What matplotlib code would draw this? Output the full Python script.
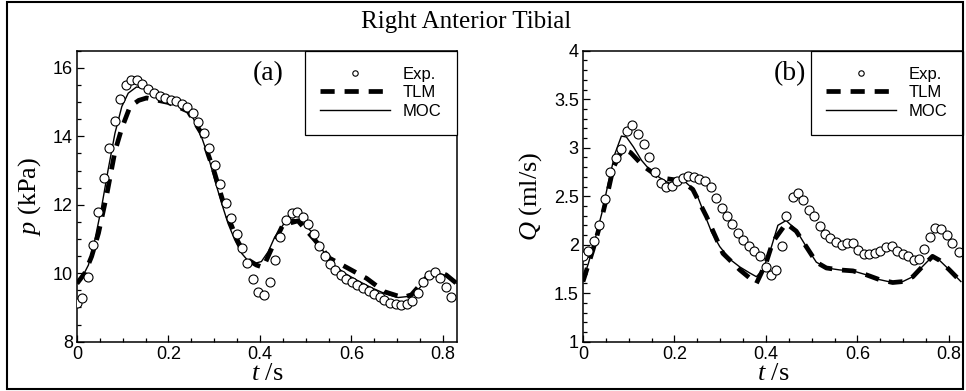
import matplotlib
matplotlib.use("Agg")
import matplotlib.pyplot as plt
from matplotlib.patches import Rectangle
from matplotlib.ticker import MultipleLocator, FormatStrFormatter

plt.rcParams['font.family'] = 'Liberation Sans'
plt.rcParams['mathtext.fontset'] = 'custom'
plt.rcParams['mathtext.it'] = 'Liberation Serif:italic'
plt.rcParams['mathtext.rm'] = 'Liberation Serif'

# ---- panel (a): pressure ----
exp_t_a = [0.000, 0.010, 0.025, 0.036, 0.047, 0.059, 0.070, 0.083, 0.095, 0.107,
           0.119, 0.131, 0.143, 0.156, 0.168, 0.181, 0.192, 0.205, 0.216, 0.229,
           0.241, 0.253, 0.265, 0.277, 0.288, 0.301, 0.313, 0.325, 0.337, 0.349,
           0.360, 0.372, 0.385, 0.396, 0.408, 0.421, 0.432, 0.443, 0.456, 0.469,
           0.481, 0.493, 0.505, 0.517, 0.529, 0.541, 0.552, 0.565, 0.576, 0.589,
           0.601, 0.613, 0.625, 0.638, 0.649, 0.662, 0.672, 0.685, 0.697, 0.709,
           0.721, 0.733, 0.745, 0.756, 0.769, 0.782, 0.794, 0.806, 0.818]
exp_p = [9.12, 9.27, 9.88, 10.83, 11.80, 12.78, 13.67, 14.45, 15.09, 15.49,
         15.65, 15.65, 15.53, 15.38, 15.26, 15.18, 15.12, 15.07, 15.02, 14.95,
         14.85, 14.68, 14.43, 14.09, 13.67, 13.17, 12.61, 12.05, 11.60, 11.15,
         10.73, 10.31, 9.83, 9.44, 9.36, 9.73, 10.39, 11.05, 11.56, 11.77,
         11.78, 11.65, 11.44, 11.15, 10.80, 10.51, 10.26, 10.10, 9.95, 9.83,
         9.74, 9.66, 9.58, 9.48, 9.39, 9.30, 9.22, 9.14, 9.09, 9.07,
         9.09, 9.19, 9.43, 9.73, 9.95, 10.05, 9.87, 9.61, 9.32]

moc_t_a = [0.000, 0.010, 0.025, 0.039, 0.054, 0.068, 0.083, 0.098, 0.112, 0.130,
           0.148, 0.170, 0.192, 0.214, 0.236, 0.254, 0.272, 0.287, 0.301, 0.316,
           0.330, 0.345, 0.360, 0.374, 0.389, 0.403, 0.418, 0.432, 0.454, 0.472,
           0.491, 0.512, 0.534, 0.556, 0.585, 0.614, 0.643, 0.672, 0.702, 0.723,
           0.745, 0.767, 0.785, 0.803, 0.829]
moc_p = [9.73, 9.85, 10.24, 10.97, 11.95, 13.02, 14.09, 14.87, 15.26, 15.44,
         15.41, 15.28, 15.15, 15.02, 14.82, 14.53, 13.99, 13.41, 12.73, 12.05,
         11.46, 10.97, 10.58, 10.36, 10.29, 10.34, 10.63, 11.05, 11.48, 11.58,
         11.51, 11.22, 10.73, 10.29, 10.00, 9.78, 9.58, 9.41, 9.29, 9.32,
         9.51, 9.85, 10.02, 9.95, 9.71]

tlm_t_a = [0.000, 0.017, 0.032, 0.047, 0.065, 0.083, 0.098, 0.116, 0.135, 0.152,
           0.199, 0.243, 0.272, 0.287, 0.301, 0.316, 0.330, 0.352, 0.374, 0.392,
           0.407, 0.429, 0.450, 0.483, 0.520, 0.552, 0.592, 0.633, 0.672, 0.712,
           0.731, 0.767, 0.789, 0.807, 0.829]
tlm_p = [9.70, 10.00, 10.49, 11.17, 12.29, 13.56, 14.24, 14.87, 15.05, 15.12,
         14.99, 14.73, 14.09, 13.46, 12.92, 12.24, 11.65, 10.92, 10.39, 10.24,
         10.17, 10.83, 11.41, 11.53, 10.97, 10.44, 10.15, 9.85, 9.46, 9.29,
         9.37, 9.92, 10.05, 9.95, 9.71]

# ---- panel (b): flow rate ----
exp_t_b = [0.001, 0.012, 0.024, 0.036, 0.048, 0.060, 0.072, 0.084, 0.097, 0.108,
           0.121, 0.133, 0.145, 0.157, 0.170, 0.181, 0.194, 0.206, 0.218, 0.230,
           0.242, 0.254, 0.266, 0.279, 0.290, 0.303, 0.314, 0.326, 0.338, 0.350,
           0.362, 0.374, 0.386, 0.399, 0.410, 0.421, 0.434, 0.444, 0.458, 0.470,
           0.481, 0.494, 0.505, 0.517, 0.530, 0.541, 0.554, 0.566, 0.578, 0.590,
           0.602, 0.614, 0.626, 0.639, 0.650, 0.663, 0.675, 0.687, 0.699, 0.711,
           0.723, 0.734, 0.746, 0.759, 0.770, 0.783, 0.795, 0.807, 0.821]
exp_q = [1.88, 1.93, 2.04, 2.20, 2.47, 2.75, 2.89, 2.99, 3.17, 3.23,
         3.14, 3.04, 2.90, 2.75, 2.64, 2.60, 2.61, 2.66, 2.69, 2.71,
         2.70, 2.68, 2.66, 2.60, 2.48, 2.38, 2.30, 2.21, 2.12, 2.05,
         1.99, 1.93, 1.88, 1.77, 1.69, 1.74, 1.99, 2.30, 2.49, 2.53,
         2.46, 2.36, 2.30, 2.19, 2.11, 2.07, 2.03, 2.00, 2.02, 2.02,
         1.95, 1.90, 1.90, 1.91, 1.94, 1.98, 1.99, 1.94, 1.90, 1.88,
         1.84, 1.85, 1.96, 2.08, 2.17, 2.16, 2.10, 2.02, 1.92]

moc_t_b = [0.000, 0.012, 0.026, 0.041, 0.055, 0.070, 0.084, 0.095, 0.110, 0.128,
           0.146, 0.168, 0.190, 0.208, 0.223, 0.237, 0.252, 0.266, 0.281, 0.299,
           0.321, 0.343, 0.364, 0.379, 0.393, 0.412, 0.426, 0.437, 0.444, 0.466,
           0.488, 0.510, 0.532, 0.561, 0.590, 0.619, 0.648, 0.677, 0.699, 0.721,
           0.743, 0.764, 0.779, 0.801, 0.826]
moc_q = [1.64, 1.81, 2.05, 2.32, 2.63, 2.94, 3.12, 3.11, 3.01, 2.87,
         2.77, 2.69, 2.63, 2.64, 2.65, 2.59, 2.48, 2.31, 2.13, 1.98,
         1.85, 1.77, 1.71, 1.67, 1.74, 1.98, 2.20, 2.23, 2.25, 2.15,
         1.98, 1.82, 1.76, 1.74, 1.73, 1.69, 1.64, 1.61, 1.62, 1.67,
         1.78, 1.88, 1.84, 1.74, 1.62]

tlm_t_b = [0.000, 0.022, 0.037, 0.052, 0.066, 0.080, 0.090, 0.104, 0.132, 0.168,
           0.215, 0.240, 0.270, 0.306, 0.343, 0.379, 0.400, 0.415, 0.444, 0.466,
           0.488, 0.510, 0.532, 0.561, 0.590, 0.619, 0.648, 0.677, 0.699, 0.721,
           0.743, 0.764, 0.779, 0.801, 0.826]
tlm_q = [1.62, 1.95, 2.20, 2.49, 2.79, 2.93, 2.98, 2.95, 2.81, 2.69,
         2.66, 2.57, 2.29, 1.91, 1.74, 1.60, 1.81, 2.03, 2.22, 2.14,
         1.98, 1.82, 1.76, 1.74, 1.73, 1.69, 1.64, 1.61, 1.62, 1.67,
         1.78, 1.88, 1.84, 1.74, 1.62]

fig = plt.figure(figsize=(9.66, 3.91), dpi=100)
ax_a = fig.add_axes([0.0797, 0.1261, 0.3931, 0.7442])
ax_b = fig.add_axes([0.6035, 0.1261, 0.3931, 0.7442])

panels = [
    (ax_a, exp_t_a, exp_p, tlm_t_a, tlm_p, moc_t_a, moc_p, (8, 16.5), 2, 0.5,
     r'$p$ (kPa)', '(a)', 0.503),
    (ax_b, exp_t_b, exp_q, tlm_t_b, tlm_q, moc_t_b, moc_q, (1, 4), 0.5, 0.1,
     r'$Q$ (ml/s)', '(b)', 0.545),
]

for ax, et, ev, tt, tv, mt, mv, ylim, ymaj, ymin, ylab, tag, tagx in panels:
    ax.plot(et, ev, 'o', ms=6.5, mfc='white', mec='black', mew=0.8, label='Exp.',
            zorder=3)
    ax.plot(tt, tv, color='black', lw=3.4, ls=(0, (3.0, 2.1)), label='TLM', zorder=2)
    ax.plot(mt, mv, color='black', lw=1.0, label='MOC', zorder=2)
    ax.set_xlim(0, 0.83)
    ax.set_ylim(*ylim)
    ax.xaxis.set_major_locator(MultipleLocator(0.2))
    ax.xaxis.set_minor_locator(MultipleLocator(0.05))
    ax.yaxis.set_major_locator(MultipleLocator(ymaj))
    ax.yaxis.set_minor_locator(MultipleLocator(ymin))
    ax.xaxis.set_major_formatter(FormatStrFormatter('%g'))
    ax.yaxis.set_major_formatter(FormatStrFormatter('%g'))
    ax.tick_params(which='both', direction='in', top=False, right=False,
                   labelsize=13, width=0.9, pad=3)
    ax.tick_params(which='major', length=5)
    ax.tick_params(which='minor', length=3)
    for s in ax.spines.values():
        s.set_linewidth(1.1)
    ax.set_xlabel(r'$t$ /s', fontsize=19, family='Liberation Serif', labelpad=0)
    ax.set_ylabel(ylab, fontsize=19, family='Liberation Serif', labelpad=7)
    ax.text(tagx, 0.923, tag, transform=ax.transAxes, ha='center', va='center',
            fontsize=20, family='Liberation Serif')
    leg = ax.legend(loc='upper right', borderaxespad=0, fancybox=False,
                    edgecolor='black', framealpha=1, fontsize=12,
                    handlelength=4.2, handletextpad=0.7, labelspacing=0.22,
                    borderpad=0.95, markerscale=0.6)
    leg.get_frame().set_linewidth(0.9)

fig.text(0.483, 0.944, 'Right Anterior Tibial', ha='center', va='center',
         fontsize=18, family='Liberation Serif')

fig.patches.append(Rectangle((0.0072, 0.005), 0.9898, 0.99, transform=fig.transFigure,
                             fill=False, edgecolor='black', lw=1.5))

fig.savefig('out.png', dpi=100)
